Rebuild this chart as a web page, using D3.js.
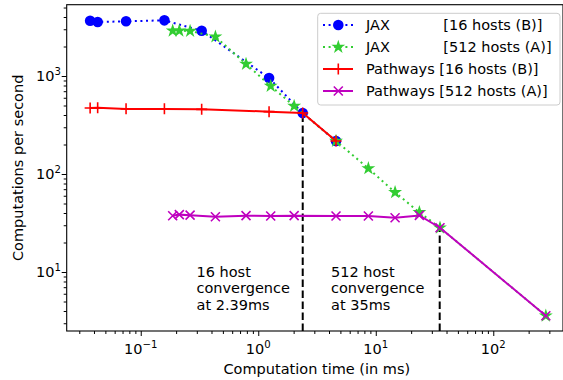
<!DOCTYPE html>
<html>
<head>
<meta charset="utf-8">
<script src="https://cdn.jsdelivr.net/npm/d3@7"></script>
<style>
  body { margin: 0; background: #fff; }
  svg { display: block; font-family: "DejaVu Sans", sans-serif; }
</style>
</head>
<body>
<svg id="chart" width="563" height="380"></svg>
<script>
// values (log-log)
const jaxBTime = [0.0371, 0.043, 0.075, 0.159, 0.330, 1.236, 2.39, 4.59];
const jaxBRate = [3664, 3558, 3615, 3700, 2897, 954, 419, 217];
const jaxATime = [0.187, 0.213, 0.263, 0.432, 0.787, 1.276, 2.02, 4.59, 8.65, 14.6, 23.5, 35.2, 280];
const jaxARate = [2897, 2897, 2877, 2518, 1326, 791, 494, 217, 114, 65.0, 40.6, 28.3, 3.58];
const pwBTime = [0.0371, 0.043, 0.075, 0.159, 0.330, 1.236, 2.39, 4.59];
const pwBRate = [471, 475, 462, 462, 457, 433, 419, 217];
const pwATime = [0.187, 0.213, 0.263, 0.432, 0.787, 1.276, 2.02, 4.59, 8.65, 14.6, 23.5, 35.2, 280];
const pwARate = [37.5, 38.5, 38.0, 36.6, 37.6, 37.3, 37.6, 37.3, 37.3, 35.8, 37.8, 28.3, 3.58];

const convTime = [2.39, 35];
const convRate = [419, 28.3];
const convText = [["16 host", "convergence", "at 2.39ms"], ["512 host", "convergence", "at 35ms"]];

const xMajor = [0.1, 1, 10, 100];
const xExp = ["\u22121", "0", "1", "2"];
const yMajor = [10, 100, 1000];
const yExp = ["1", "2", "3"];

const series = [
  { name: "JAX", tag: "[16 hosts (B)]", xs: jaxBTime, ys: jaxBRate, color: "#0000ff", dash: "2,3.6", marker: "circle" },
  { name: "JAX", tag: "[512 hosts (A)]", xs: jaxATime, ys: jaxARate, color: "#32cd32", dash: "2,3.6", marker: "star" },
  { name: "Pathways", tag: "[16 hosts (B)]", xs: pwBTime, ys: pwBRate, color: "#ff0000", dash: null, marker: "plus" },
  { name: "Pathways", tag: "[512 hosts (A)]", xs: pwATime, ys: pwARate, color: "#bf00bf", dash: null, marker: "x" }
];

const pLeft = 66.7, pRight = 563, pTop = 4.7, pBottom = 331;
const fs = 14.5;

const svg = d3.select("#chart");

const x = d3.scaleLog().domain([0.02344, 392]).range([pLeft, pRight]);
const y = d3.scaleLog().domain([2.5, 5342]).range([pBottom, pTop]);

svg.append("clipPath").attr("id", "clip")
  .append("rect").attr("x", pLeft).attr("y", pTop).attr("width", pRight - pLeft).attr("height", pBottom - pTop);

const plot = svg.append("g").attr("clip-path", "url(#clip)");

// convergence markers
convTime.forEach((t, i) => {
  plot.append("line")
    .attr("x1", x(t)).attr("x2", x(t))
    .attr("y1", pBottom).attr("y2", y(convRate[i]))
    .attr("stroke", "#000").attr("stroke-width", 2)
    .attr("stroke-dasharray", "7.5,3.5");
  const tx = svg.append("text")
    .attr("x", i === 0 ? 196.5 : 331)
    .attr("y", 276.7)
    .attr("font-size", fs).attr("fill", "#000");
  convText[i].forEach((s, k) => {
    tx.append("tspan").attr("x", i === 0 ? 196.5 : 331).attr("dy", k === 0 ? 0 : 16.7).text(s);
  });
});

function markerPath(kind) {
  if (kind === "star") return d3.symbol(d3.symbolStar, 60)();
  if (kind === "plus") return "M-5.5,0H5.5M0,-5.5V5.5";
  if (kind === "x") return "M-4.5,-4.5L4.5,4.5M-4.5,4.5L4.5,-4.5";
  return null;
}

function drawMarker(g, kind, color, px, py) {
  if (kind === "circle") {
    g.append("circle").attr("cx", px).attr("cy", py).attr("r", 5.3).attr("fill", color);
  } else if (kind === "star") {
    g.append("path").attr("d", markerPath(kind)).attr("transform", `translate(${px},${py})`)
      .attr("fill", color);
  } else {
    g.append("path").attr("d", markerPath(kind)).attr("transform", `translate(${px},${py})`)
      .attr("fill", "none").attr("stroke", color).attr("stroke-width", 1.6);
  }
}

const line = d3.line().x(d => x(d[0])).y(d => y(d[1]));

series.forEach(s => {
  const pts = s.xs.map((v, i) => [v, s.ys[i]]);
  plot.append("path").datum(pts)
    .attr("d", line)
    .attr("fill", "none")
    .attr("stroke", s.color)
    .attr("stroke-width", 2)
    .attr("stroke-dasharray", s.dash);
  const mg = plot.append("g");
  pts.forEach(p => drawMarker(mg, s.marker, s.color, x(p[0]), y(p[1])));
});

// axes
const xMinor = [];
for (let e = -2; e <= 2; e++) for (let m = 2; m <= 9; m++) {
  const v = m * Math.pow(10, e);
  if (v > x.domain()[0] && v < x.domain()[1]) xMinor.push(v);
}
const yMinor = [];
for (let e = 0; e <= 3; e++) for (let m = 2; m <= 9; m++) {
  const v = m * Math.pow(10, e);
  if (v > y.domain()[0] && v < y.domain()[1]) yMinor.push(v);
}

const axX = svg.append("g").attr("transform", `translate(0,${pBottom})`);
axX.call(d3.axisBottom(x).tickValues(xMajor).tickSize(5).tickFormat(() => ""));
axX.append("g").call(d3.axisBottom(x).tickValues(xMinor).tickSize(3).tickFormat(() => ""));

const axY = svg.append("g").attr("transform", `translate(${pLeft},0)`);
axY.call(d3.axisLeft(y).tickValues(yMajor).tickSize(5).tickFormat(() => ""));
axY.append("g").call(d3.axisLeft(y).tickValues(yMinor).tickSize(3).tickFormat(() => ""));

svg.selectAll(".domain").remove();
svg.selectAll(".tick line").attr("stroke", "#000").attr("stroke-width", 1);

// frame
svg.append("rect").attr("x", pLeft).attr("y", pTop)
  .attr("width", pRight - pLeft).attr("height", pBottom - pTop)
  .attr("fill", "none").attr("stroke", "#000").attr("stroke-width", 1.1);

// tick labels with superscripts
xMajor.forEach((v, i) => {
  const t = svg.append("text").attr("x", x(v)).attr("y", 354)
    .attr("text-anchor", "middle").attr("font-size", fs).attr("fill", "#000");
  t.append("tspan").text("10");
  t.append("tspan").attr("font-size", fs * 0.7).attr("dy", -6).text(xExp[i]);
});
yMajor.forEach((v, i) => {
  const t = svg.append("text").attr("x", 61).attr("y", y(v) + 5)
    .attr("text-anchor", "end").attr("font-size", fs).attr("fill", "#000");
  t.append("tspan").text("10");
  t.append("tspan").attr("font-size", fs * 0.7).attr("dy", -6).text(yExp[i]);
});

svg.append("text").attr("x", (pLeft + pRight) / 2 + 2).attr("y", 374)
  .attr("text-anchor", "middle").attr("font-size", fs).text("Computation time (in ms)");
svg.append("text").attr("transform", `translate(22.5,${(pTop + pBottom) / 2}) rotate(-90)`)
  .attr("text-anchor", "middle").attr("font-size", fs).text("Computations per second");

// legend
const lg = svg.append("g");
lg.append("rect").attr("x", 317.7).attr("y", 13.3).attr("width", 242.3).attr("height", 91.7)
  .attr("rx", 3).attr("fill", "#fff").attr("fill-opacity", 0.8)
  .attr("stroke", "#cccccc").attr("stroke-width", 1);
series.forEach((s, i) => {
  const cy = 25 + i * 22;
  lg.append("line").attr("x1", 323).attr("x2", 353).attr("y1", cy).attr("y2", cy)
    .attr("stroke", s.color).attr("stroke-width", 2).attr("stroke-dasharray", s.dash);
  drawMarker(lg, s.marker, s.color, 338.3, cy);
  const t = lg.append("text").attr("x", 366).attr("y", cy + 5.3)
    .attr("font-size", fs).attr("fill", "#000");
  t.append("tspan").text(s.name);
  t.append("tspan").attr("x", s.name === "JAX" ? 443.3 : null).text(s.name === "JAX" ? s.tag : " " + s.tag);
});
</script>
</body>
</html>
